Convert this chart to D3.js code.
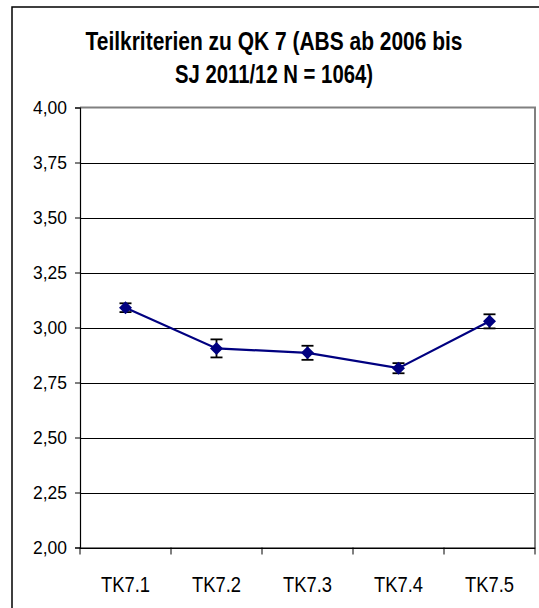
<!DOCTYPE html>
<html><head><meta charset="utf-8">
<script src="https://cdn.jsdelivr.net/npm/d3@7"></script>
<style>body{margin:0;background:#fff;} svg{display:block;}</style>
</head><body>
<script>
const categories = ["TK7.1","TK7.2","TK7.3","TK7.4","TK7.5"];
const means = [3.09, 2.905, 2.885, 2.815, 3.028];
const errors = [0.02, 0.041, 0.032, 0.023, 0.032];
const yTicks = [2.00,2.25,2.50,2.75,3.00,3.25,3.50,3.75,4.00];
const titleLines = ["Teilkriterien zu QK 7 (ABS ab 2006 bis","SJ 2011/12 N = 1064)"];

const W=539,H=608;
const svg=d3.select("body").append("svg").attr("width",W).attr("height",H);
svg.append("rect").attr("width",W).attr("height",H).attr("fill","#fff");
// outer frame
svg.append("rect").attr("x",12).attr("y",7).attr("width",W+20).attr("height",H+20)
  .attr("fill","none").attr("stroke","#000").attr("stroke-width",1.5);

const font="'Liberation Sans',Arial,sans-serif";
const L=80,R=535,T=107.5,B=547.5;
const x=d3.scaleBand().domain(categories).range([L,R]);
const y=d3.scaleLinear().domain([2,4]).range([B,T]);

const titleW=[377,198];
svg.selectAll("text.title").data(titleLines).join("text").attr("class","title")
  .attr("x",274).attr("y",(d,i)=>50+i*33).attr("text-anchor","middle")
  .attr("font-family",font).attr("font-weight","bold").attr("font-size",25)
  .attr("textLength",(d,i)=>titleW[i]).attr("lengthAdjust","spacingAndGlyphs").text(d=>d);

// gridlines
svg.append("g").selectAll("line").data(yTicks.slice(0,-1)).join("line")
  .attr("x1",L).attr("x2",R).attr("y1",d=>Math.round(y(d))+0.5).attr("y2",d=>Math.round(y(d))+0.5)
  .attr("stroke","#000").attr("stroke-width",1);
// plot border top/right
svg.append("path").attr("d",`M${L},${T}H${R}V${B}`).attr("fill","none").attr("stroke","#808080").attr("stroke-width",2);

// y axis
const yAxis=d3.axisLeft(y).tickValues(yTicks).tickSize(5).tickPadding(8)
  .tickFormat(d=>d3.format(".2f")(d).replace(".",","));
const gy=svg.append("g").attr("transform",`translate(${L},0)`).call(yAxis);
gy.select(".domain").attr("stroke","#000").attr("stroke-width",1.2);
gy.selectAll(".tick line").attr("stroke","#000");
gy.selectAll("text").attr("font-family",font).attr("font-size",19).attr("fill","#000")
  .attr("textLength",34).attr("lengthAdjust","spacingAndGlyphs");

// x axis
const xAxis=d3.axisBottom(x).tickSize(0).tickPadding(28.5);
const gx=svg.append("g").attr("transform",`translate(0,${B})`).call(xAxis);
gx.select(".domain").attr("stroke","#000").attr("stroke-width",1.2);
gx.selectAll("text").attr("font-family",font).attr("font-size",22.5).attr("fill","#000")
  .attr("textLength",49).attr("lengthAdjust","spacingAndGlyphs");
// x ticks at band boundaries
const bounds=categories.map(c=>x(c)).concat([R]);
gx.append("g").selectAll("line").data(bounds).join("line")
  .attr("x1",d=>d).attr("x2",d=>d).attr("y1",0).attr("y2",7).attr("stroke","#000");

const cx=c=>x(c)+x.bandwidth()/2;
const data=categories.map((c,i)=>({c,m:means[i],e:errors[i]}));
// line
svg.append("path").datum(data).attr("fill","none").attr("stroke","#000080").attr("stroke-width",2.2)
  .attr("d",d3.line().x(d=>cx(d.c)).y(d=>y(d.m)));
// error bars
const eb=svg.append("g").attr("stroke","#000").attr("stroke-width",1.8);
data.forEach(d=>{
  const X=cx(d.c),y1=y(d.m+d.e),y2=y(d.m-d.e);
  eb.append("line").attr("x1",X).attr("x2",X).attr("y1",y1).attr("y2",y2);
  eb.append("line").attr("x1",X-6).attr("x2",X+6).attr("y1",y1).attr("y2",y1);
  eb.append("line").attr("x1",X-6).attr("x2",X+6).attr("y1",y2).attr("y2",y2);
});
// markers
svg.append("g").selectAll("path").data(data).join("path")
  .attr("d",d=>{const X=cx(d.c),Y=y(d.m),s=6.5;return `M${X},${Y-s}L${X+s},${Y}L${X},${Y+s}L${X-s},${Y}Z`;})
  .attr("fill","#000080");
</script>
</body></html>
